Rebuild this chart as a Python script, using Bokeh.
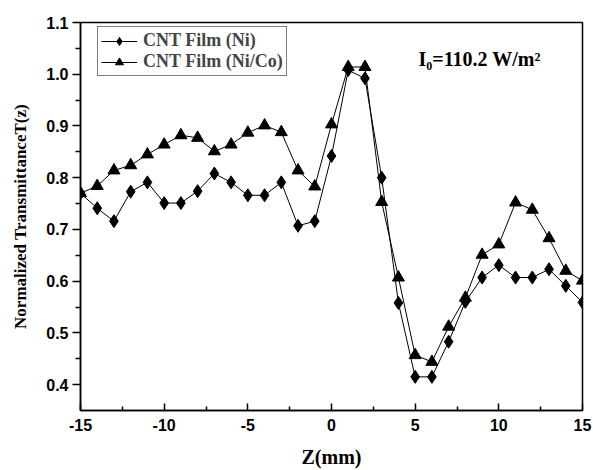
from bokeh.plotting import figure
from bokeh.models import Range1d, Legend, LegendItem, Label, FixedTicker, PrintfTickFormatter
from bokeh.embed import file_html
from bokeh.resources import INLINE

z = list(range(-15, 16))
ni = [0.770, 0.741, 0.716, 0.773, 0.791, 0.751, 0.751, 0.774, 0.808, 0.791,
      0.766, 0.766, 0.791, 0.707, 0.716, 0.842, 1.008, 0.992, 0.800, 0.558,
      0.415, 0.415, 0.483, 0.560, 0.607, 0.631, 0.607, 0.607, 0.623, 0.591, 0.559]
nico = [0.770, 0.784, 0.814, 0.824, 0.845, 0.864, 0.882, 0.877, 0.851, 0.864,
        0.887, 0.901, 0.888, 0.814, 0.783, 0.903, 1.014, 1.014, 0.753, 0.607,
        0.457, 0.444, 0.512, 0.568, 0.651, 0.671, 0.752, 0.738, 0.683, 0.620, 0.601]
series_names = ["CNT Film (Ni)", "CNT Film (Ni/Co)"]
x_ticks = [-15, -10, -5, 0, 5, 10, 15]
y_ticks = [0.4, 0.5, 0.6, 0.7, 0.8, 0.9, 1.0, 1.1]

p = figure(width=593, height=470, output_backend="svg", toolbar_location=None,
           x_range=Range1d(-15, 15), y_range=Range1d(0.35, 1.1))
p.min_border_left = 80
p.min_border_right = 11
p.min_border_top = 22
p.min_border_bottom = 60
p.background_fill_color = "white"
p.border_fill_color = "white"
p.outline_line_color = "black"
p.outline_line_width = 1.5
p.xgrid.visible = False
p.ygrid.visible = False

serif = "Liberation Serif"
sans = "Liberation Sans"

p.xaxis.ticker = FixedTicker(ticks=x_ticks, minor_ticks=[-12.5, -7.5, -2.5, 2.5, 7.5, 12.5])
p.yaxis.ticker = FixedTicker(ticks=y_ticks, minor_ticks=[0.45, 0.55, 0.65, 0.75, 0.85, 0.95, 1.05])
p.xaxis.formatter = PrintfTickFormatter(format="%d")
p.yaxis.formatter = PrintfTickFormatter(format="%.1f")

for ax in (p.xaxis[0], p.yaxis[0]):
    ax.axis_line_color = "black"
    ax.axis_line_width = 1.5
    ax.major_tick_line_width = 1.5
    ax.minor_tick_line_width = 1.5
    ax.major_label_text_font = sans
    ax.major_label_text_font_style = "bold"
    ax.major_label_text_font_size = "16px"
    ax.major_label_text_color = "black"
    ax.axis_label_text_font = serif
    ax.axis_label_text_font_style = "bold"
    ax.axis_label_text_color = "black"

p.xaxis.major_tick_in = 7
p.xaxis.major_tick_out = 0
p.xaxis.minor_tick_in = 4
p.xaxis.minor_tick_out = 0
p.xaxis.major_label_standoff = 8
p.xaxis.axis_label = "Z(mm)"
p.xaxis.axis_label_text_font_size = "20px"
p.xaxis.axis_label_standoff = 12

p.yaxis.major_tick_in = 0
p.yaxis.major_tick_out = 8
p.yaxis.minor_tick_in = 0
p.yaxis.minor_tick_out = 5
p.yaxis.major_label_standoff = 4
p.yaxis.axis_label = "Normalized TransmittanceT(z)"
p.yaxis.axis_label_text_font_size = "17px"
p.yaxis.axis_label_standoff = 13

l1 = p.line(z, ni, line_color="black", line_width=1)
s1 = p.scatter(z, ni, marker="diamond", size=13, color="black")
l2 = p.line(z, nico, line_color="black", line_width=1)
s2 = p.scatter(z, nico, marker="triangle", size=12, color="black")

legend = Legend(items=[LegendItem(label=series_names[0], renderers=[l1, s1]),
                       LegendItem(label=series_names[1], renderers=[l2, s2])],
                location=(17, 334))
legend.label_text_font = serif
legend.label_text_font_style = "bold"
legend.label_text_font_size = "18px"
legend.border_line_color = "black"
legend.border_line_width = 1
legend.background_fill_alpha = 1
legend.margin = 0
legend.padding = 3
legend.spacing = 0
legend.glyph_width = 36
legend.label_standoff = 6
legend.label_height = 20
legend.glyph_height = 20
p.add_layout(legend)

p.add_layout(Label(x=338, y=352, x_units="screen", y_units="screen",
                   text="I\u2080=110.2 W/m\u00b2", text_baseline="alphabetic",
                   text_font=serif, text_font_style="bold", text_font_size="20px",
                   text_color="black"))

open("out.html", "w").write(file_html(p, INLINE))
